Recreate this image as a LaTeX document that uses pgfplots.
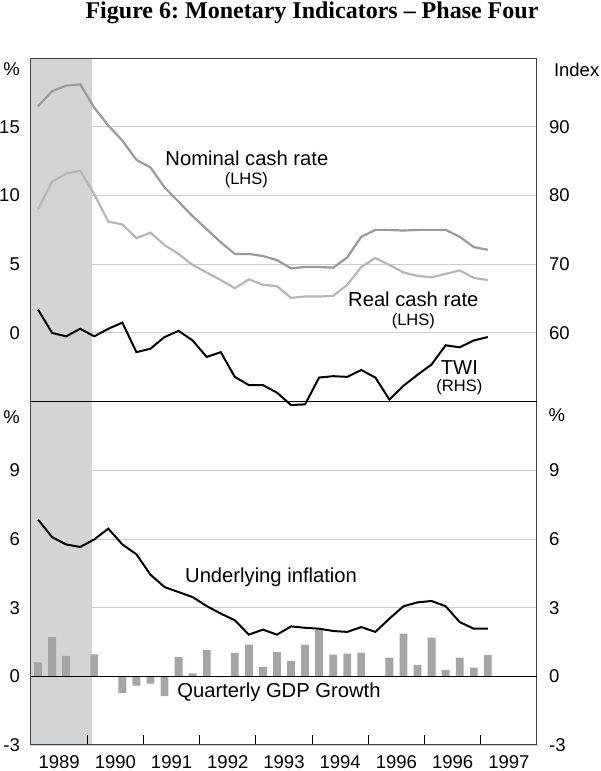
\documentclass[border=0pt]{standalone}
\usepackage{pgfplots}
\usepackage{pgfplotstable}
\pgfplotsset{compat=1.18}
\usepackage{fontspec}
\setmainfont{Liberation Sans}
\newfontfamily\titlefont{Liberation Serif}

\definecolor{shadegray}{HTML}{D3D4D6}
\definecolor{nomc}{HTML}{9A9A9A}
\definecolor{realc}{HTML}{B6B6B6}
\definecolor{barc}{HTML}{A4A5A7}
\definecolor{gridc}{HTML}{CDCDCD}
\definecolor{framec}{HTML}{404040}

\newcommand\tck{\fontsize{18.5}{21}\selectfont}
\newcommand\lab{\fontsize{20.2}{23}\selectfont}
\newcommand\sm{\fontsize{16.5}{19}\selectfont}

% quarterly, x = years from start of the 1989 interval
\pgfplotstableread{
x     nom   real  twi
0.125 16.5  9.0   63.4
0.375 17.6  11.0  60.0
0.625 18.0  11.6  59.5
0.875 18.1  11.8  60.6
1.125 16.4  10.1  59.5
1.375 15.1  8.1   60.6
1.625 14.0  7.9   61.5
1.875 12.6  6.9   57.2
2.125 12.05 7.3   57.7
2.375 10.6  6.4   59.4
2.625 9.55  5.75  60.3
2.875 8.5   4.95  58.9
3.125 7.55  4.4   56.5
3.375 6.6   3.85  57.2
3.625 5.75  3.25  53.6
3.875 5.75  3.9   52.4
4.125 5.6   3.5   52.4
4.375 5.3   3.4   51.3
4.625 4.7   2.55  49.5
4.875 4.8   2.65  49.6
5.125 4.8   2.65  53.5
5.375 4.75  2.7   53.7
5.625 5.5   3.5   53.6
5.875 7.0   4.8   54.6
6.125 7.5   5.45  53.5
6.375 7.5   4.95  50.3
6.625 7.45  4.4   52.3
6.875 7.5   4.15  53.9
7.125 7.5   4.05  55.4
7.375 7.5   4.3   58.2
7.625 7.0   4.55  57.9
7.875 6.25  4.0   58.9
8.125 6.05  3.85  59.4
}\toptab

\pgfplotstableread{
x     inf
0.125 6.85
0.375 6.08
0.625 5.76
0.875 5.65
1.125 5.98
1.375 6.45
1.625 5.76
1.875 5.33
2.125 4.44
2.375 3.9
2.625 3.68
2.875 3.46
3.125 3.07
3.375 2.74
3.625 2.45
3.875 1.82
4.125 2.04
4.375 1.82
4.625 2.18
4.875 2.12
5.125 2.08
5.375 1.98
5.625 1.94
5.875 2.15
6.125 1.94
6.375 2.52
6.625 3.06
6.875 3.23
7.125 3.29
7.375 3.06
7.625 2.37
7.875 2.08
8.125 2.08
}\inftab

\pgfplotstableread{
x     g
0.125 0.61
0.375 1.72
0.625 0.89
1.125 0.96
1.625 -0.73
1.875 -0.41
2.125 -0.32
2.375 -0.86
2.625 0.84
2.875 0.13
3.125 1.16
3.375 -0.03
3.625 1.02
3.875 1.38
4.125 0.41
4.375 1.06
4.625 0.67
4.875 1.38
5.125 2.04
5.375 0.95
5.625 0.99
5.875 1.03
6.375 0.82
6.625 1.86
6.875 0.49
7.125 1.69
7.375 0.28
7.625 0.82
7.875 0.38
8.125 0.93
}\gdptab

\pgfplotsset{
  layers/shaded/.define layer set={
    axis background,axis grid,pre main,axis ticks,axis lines,
    axis tick labels,main,axis descriptions,axis foreground
  }{
    grid style={/pgfplots/on layer=axis grid},
    tick style={/pgfplots/on layer=axis ticks},
    axis line style={/pgfplots/on layer=axis lines},
    label style={/pgfplots/on layer=axis descriptions},
    ticklabel style={/pgfplots/on layer=axis tick labels},
  },
  panel/.style={
    set layers=shaded,
    width=506pt, height=343.4pt, scale only axis,
    xmin=0, xmax=9, clip=false,
    axis line style={framec, line width=1pt},
    tick label style={font=\tck, inner sep=0pt},
    ytick style={draw=none},
    grid style={gridc, line width=0.9pt},
  },
  leftside/.style={yticklabel style={anchor=east, xshift=-11pt}},
  rightside/.style={
    axis line style={draw=none},
    yticklabel pos=right,
    yticklabel style={anchor=west, xshift=12pt},
    xtick=\empty,
  },
}

\begin{document}
\begin{tikzpicture}[x=1pt,y=1pt]
\node[anchor=base, font=\titlefont\bfseries\fontsize{24}{28}\selectfont] at (281,726.7)
  {Figure 6:\ Monetary Indicators – Phase Four};

% top panel, left scale (%)
\begin{axis}[panel, leftside, at={(0pt,343.4pt)}, anchor=south west,
    ymin=-5, ymax=20, ytick={0,5,10,15}, yticklabels={0,5,10,15},
    ymajorgrids, xtick=\empty]
\addplot[on layer=pre main, fill=shadegray, draw=none]
  coordinates {(0,-5) (0,20) (1.08,20) (1.08,-5)} -- cycle;
\addplot[nomc, line width=2.2pt] table[x=x, y=nom] {\toptab};
\addplot[realc, line width=2.2pt] table[x=x, y=real] {\toptab};
\draw[black, line width=1.5pt] (rel axis cs:0,0) -- (rel axis cs:1,0);
\node[font=\tck] at (axis cs:-0.347,19.18) {\%};
\node[font=\lab] at (axis cs:3.84,12.72) {Nominal cash rate};
\node[font=\sm] at (axis cs:3.83,11.12) {(LHS)};
\node[font=\lab] at (axis cs:6.8,2.42) {Real cash rate};
\node[font=\sm] at (axis cs:6.8,0.84) {(LHS)};
\node[font=\lab] at (axis cs:7.62,-2.52) {TWI};
\node[font=\sm] at (axis cs:7.62,-3.97) {(RHS)};
\end{axis}

% top panel, right scale (index)
\begin{axis}[panel, rightside, at={(0pt,343.4pt)}, anchor=south west,
    ymin=50, ymax=100, ytick={60,70,80,90}, yticklabels={60,70,80,90}]
\addplot[black, line width=2pt] table[x=x, y=twi] {\toptab};
\node[font=\tck, anchor=west] at (axis cs:9.24,98.36) {Index};
\end{axis}

% bottom panel, left scale
\begin{axis}[panel, leftside, at={(0pt,0pt)}, anchor=south west,
    ymin=-3, ymax=12, ytick={-3,0,3,6,9}, yticklabels={-3,0,3,6,9},
    ymajorgrids,
    xtick={1,...,8}, xticklabels={}, xtick pos=left, tick align=inside,
    major tick length=10pt, xtick style={black, line width=1pt},
    xticklabel style={anchor=north, yshift=-10pt},
    extra x ticks={0.5,1.5,...,8.5},
    extra x tick labels={1989,1990,1991,1992,1993,1994,1996,1996,1997},
    extra x tick style={xtick style={draw=none}, grid=none}]
\addplot[on layer=pre main, fill=shadegray, draw=none]
  coordinates {(0,-3) (0,12) (1.08,12) (1.08,-3)} -- cycle;
\addplot[ybar, bar width=0.14, bar shift=0pt, fill=barc, draw=none]
  table[x=x, y=g] {\gdptab};
\draw[black, line width=1.2pt] (axis cs:0,0) -- (axis cs:9,0);
\addplot[black, line width=2pt] table[x=x, y=inf] {\inftab};
\node[font=\tck] at (axis cs:-0.347,11.32) {\%};
\node[font=\lab] at (axis cs:4.27,4.34) {Underlying inflation};
\node[font=\lab] at (axis cs:4.41,-0.71) {Quarterly GDP Growth};
\end{axis}

% bottom panel, right scale
\begin{axis}[panel, rightside, at={(0pt,0pt)}, anchor=south west,
    ymin=-3, ymax=12, ytick={-3,0,3,6,9}, yticklabels={-3,0,3,6,9}]
\addplot[draw=none] table[x=x, y=inf] {\inftab};
\node[font=\tck, anchor=west] at (axis cs:9.146,11.41) {\%};
\end{axis}

\pgfresetboundingbox
\path[use as bounding box] (-31,-26) rectangle (569,745);
\end{tikzpicture}
\end{document}
